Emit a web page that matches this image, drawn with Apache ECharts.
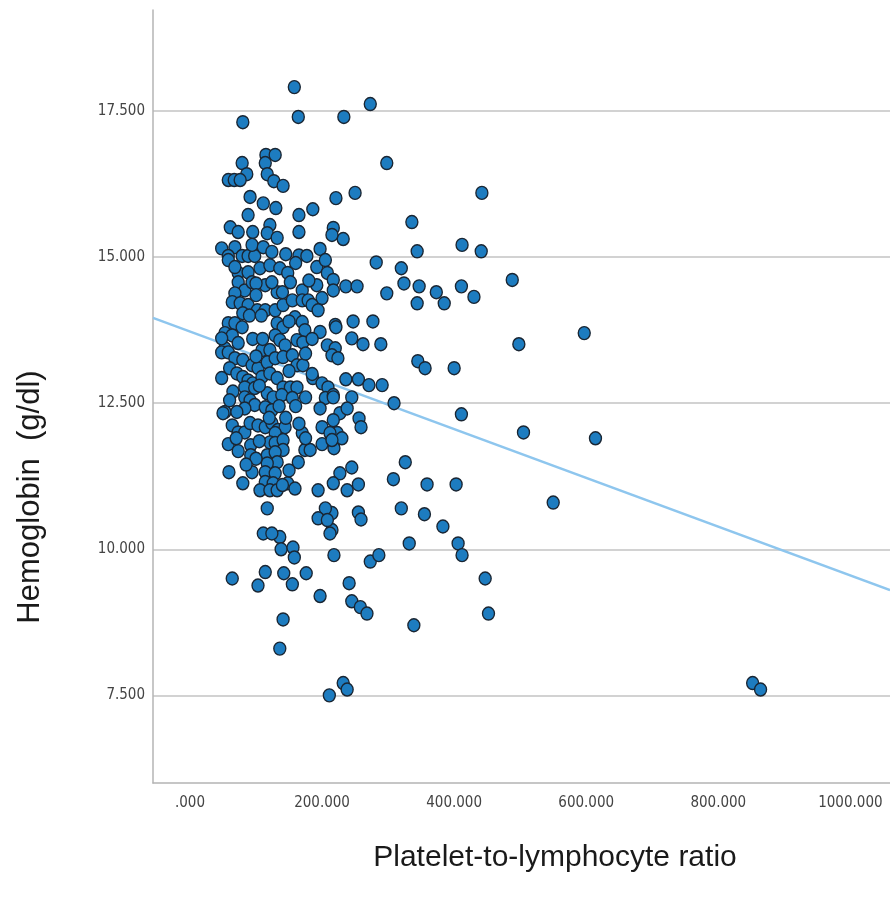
<!DOCTYPE html>
<html>
<head>
<meta charset="utf-8">
<title>Hemoglobin vs PLR</title>
<script src="https://cdn.jsdelivr.net/npm/echarts@6.0.0/dist/echarts.min.js"></script>
<style>
  html, body { margin: 0; padding: 0; background: #fff; }
  #chart { width: 890px; height: 906px; }
</style>
</head>
<body>
<div id="chart"></div>
<script>
// [PLR, hemoglobin]
var highGroup = [
    [158,17.91],[80,17.31],[164,17.40],[233,17.40],[273,17.62],[298,16.61],[115,16.75],[129,16.75],
    [79,16.61],[114,16.61],[86,16.42],[58,16.32],[67,16.32],[76,16.32],[117,16.42],[127,16.30],
    [141,16.22],[91,16.03],[111,15.92],[130,15.84],[88,15.72],[165,15.72],[186,15.82],[221,16.01],
    [250,16.10],[442,16.10],[336,15.60],[217,15.50],[232,15.31],[344,15.10],[412,15.21],[441,15.10],
    [121,15.55],[61,15.51],[73,15.43],[95,15.43],[117,15.41],[132,15.33],[165,15.43],[215,15.38],
    [48,15.15],[68,15.17],[58,15.02],[79,15.02],[88,15.02],[98,15.02],[94,15.21],[111,15.17],
    [124,15.09],[165,15.03],[177,15.02],[197,15.14],[145,15.05],[160,14.90]
];
var upperMidGroup = [
    [192,14.83],[205,14.95],[73,14.73],[88,14.74],[106,14.81],[121,14.86],[136,14.81],[148,14.73],
    [208,14.73],[282,14.91],[320,14.81],[324,14.55],[347,14.50],[373,14.40],[385,14.21],[344,14.21],
    [298,14.38],[411,14.50],[430,14.32],[488,14.61],[217,14.61],[236,14.50],[253,14.50],[58,14.95],
    [68,14.83],[73,14.57],[83,14.43],[94,14.57],[114,14.52],[132,14.40],[124,14.57],[152,14.57],
    [170,14.43],[192,14.52],[217,14.43],[200,14.30],[68,14.38],[64,14.23],[76,14.21],[88,14.18],
    [102,14.09],[114,14.09],[129,14.09],[141,14.18],[155,14.26],[170,14.26],[179,14.26],[185,14.18],
    [194,14.09],[80,14.04],[58,13.87],[68,13.87],[79,13.80],[132,13.87],[141,13.80],[159,13.97],
    [170,13.89],[174,13.75],[197,13.72],[220,13.84],[53,13.70],[64,13.66],[129,13.66],[136,13.58],
    [144,13.49],[162,13.58],[171,13.54],[73,13.53],[53,13.44],[48,13.37],[58,13.37],[109,13.41],
    [121,13.41],[208,13.49],[220,13.44],[215,13.32],[224,13.27],[68,13.27],[80,13.24],[94,13.15],
    [103,13.10],[117,13.20],[129,13.27],[141,13.29],[155,13.32],[162,13.15],[171,13.15],[48,13.61],
    [221,13.80],[247,13.90],[277,13.90],[245,13.61],[262,13.51],[289,13.51],[597,13.70],[498,13.51],
    [345,13.22],[356,13.10],[400,13.10],[100,14.55],[140,14.40],[180,14.60],[100,14.35],[90,14.00],
    [108,14.00],[150,13.90],[95,13.60],[110,13.60],[185,13.60],[100,13.30],[175,13.35],[60,13.10]
];
var lowerMidGroup = [
    [48,12.93],[71,13.01],[80,12.95],[88,12.89],[95,12.84],[109,12.95],[121,13.01],[132,12.93],
    [141,12.77],[152,12.77],[162,12.77],[186,12.93],[200,12.84],[209,12.77],[83,12.77],[98,12.76],
    [83,12.60],[91,12.55],[98,12.47],[83,12.41],[117,12.67],[126,12.60],[139,12.64],[155,12.59],
    [114,12.43],[124,12.38],[205,12.59],[217,12.64],[197,12.41],[53,12.35],[71,12.35],[227,12.33],
    [50,12.33],[236,12.91],[255,12.91],[271,12.81],[291,12.81],[217,12.60],[245,12.60],[238,12.41],
    [309,12.50],[411,12.31],[256,12.24],[259,12.09],[217,12.21],[223,11.99],[230,11.90],[218,11.73],
    [505,12.00],[614,11.90],[64,12.12],[73,12.00],[83,12.00],[91,12.16],[103,12.12],[114,12.09],
    [124,12.16],[133,12.04],[144,12.09],[129,11.99],[121,11.83],[129,11.82],[141,11.87],[141,11.70],
    [170,11.99],[200,12.09],[212,11.99],[58,11.80],[73,11.68],[92,11.78],[92,11.61],[117,11.61],
    [129,11.66],[132,11.49],[117,11.47],[164,11.49],[174,11.70],[182,11.70],[200,11.80],[215,11.87],
    [150,13.05],[105,12.80],[185,13.00],[65,12.70],[60,12.55],[175,12.60],[135,12.45],[160,12.45],
    [145,12.25],[120,12.25],[165,12.15],[175,11.90],[105,11.85],[70,11.90],[100,11.55]
];
var lowGroup = [
    [326,11.49],[245,11.40],[227,11.30],[308,11.20],[359,11.11],[403,11.11],[217,11.13],[255,11.11],
    [238,11.01],[550,10.80],[320,10.70],[355,10.60],[383,10.39],[255,10.63],[259,10.51],[215,10.62],
    [215,10.33],[332,10.10],[406,10.10],[412,9.90],[218,9.90],[273,9.79],[286,9.90],[447,9.50],
    [241,9.42],[245,9.11],[258,9.01],[268,8.90],[452,8.90],[339,8.70],[211,7.50],[232,7.71],
    [238,7.60],[852,7.71],[864,7.60],[64,9.50],[103,9.38],[114,9.61],[142,9.59],[155,9.40],
    [176,9.59],[197,9.20],[141,8.80],[136,8.30],[212,10.27],[136,10.21],[138,10.00],[156,10.03],
    [158,9.86],[111,10.27],[124,10.27],[59,11.32],[80,11.13],[94,11.32],[114,11.32],[129,11.30],
    [114,11.15],[126,11.13],[106,11.01],[121,11.01],[132,11.01],[148,11.13],[159,11.04],[194,11.01],
    [117,10.70],[205,10.70],[194,10.53],[208,10.50],[150,11.35],[140,11.10],[85,11.45]
];

// fit line, ends at the plot edges
var fitPlr = [-56, 1060];
var fitHgb = [13.96, 9.30];

var xTicks = [0, 200, 400, 600, 800, 1000];
var yTicks = [7.5, 10, 12.5, 15, 17.5];

var points = highGroup.concat(upperMidGroup, lowerMidGroup, lowGroup);
var fitLine = fitPlr.map(function (v, i) { return [v, fitHgb[i]]; });

var labelFont = "'DejaVu Sans Condensed', 'Liberation Sans Narrow', sans-serif";
var titleFont = "'Liberation Sans', Arial, sans-serif";

var myChart = echarts.init(document.getElementById('chart'));
var option = {
    animation: false,
    grid: {
        left: 153,
        top: 10,
        right: 0,
        bottom: 123
    },
    xAxis: {
        type: 'value',
        min: -56,
        max: 1060,
        axisLine: { show: true, onZero: false, lineStyle: { color: '#b4b4b4', width: 1.5 } },
        axisTick: { show: false, customValues: xTicks },
        splitLine: { show: false },
        axisLabel: {
            customValues: xTicks,
            margin: 13,
            color: '#444',
            fontSize: 15,
            fontFamily: labelFont,
            formatter: function (v) {
                return v === 0 ? '.000' : v.toFixed(3);
            }
        }
    },
    yAxis: {
        type: 'value',
        min: 6.0,
        max: 19.23,
        axisLine: { show: true, onZero: false, lineStyle: { color: '#b4b4b4', width: 1.5 } },
        axisTick: { show: false, customValues: yTicks },
        splitLine: { show: true, lineStyle: { color: '#d2d2d2', width: 2 } },
        axisLabel: {
            customValues: yTicks,
            margin: 8,
            color: '#444',
            fontSize: 15,
            fontFamily: labelFont,
            formatter: function (v) {
                return v.toFixed(3);
            }
        }
    },
    graphic: [
        {
            type: 'text',
            x: 30,
            y: 497,
            rotation: Math.PI / 2,
            style: {
                text: 'Hemoglobin  (g/dl)',
                fontSize: 31,
                fontFamily: titleFont,
                fill: '#1a1a1a',
                textAlign: 'center',
                textVerticalAlign: 'middle'
            }
        },
        {
            type: 'text',
            x: 555,
            y: 858,
            style: {
                text: 'Platelet-to-lymphocyte ratio',
                fontSize: 30,
                fontFamily: titleFont,
                fill: '#1a1a1a',
                textAlign: 'center',
                textVerticalAlign: 'middle'
            }
        }
    ],
    series: [
        {
            name: 'fit',
            type: 'line',
            data: fitLine,
            symbol: 'none',
            z: 1,
            lineStyle: { color: '#8ec6ee', width: 2.5 }
        },
        {
            name: 'patients',
            type: 'scatter',
            data: points,
            symbol: 'circle',
            symbolSize: [12, 13],
            z: 2,
            itemStyle: {
                color: '#1d7cc0',
                borderColor: '#1a2633',
                borderWidth: 1.4,
                opacity: 1
            }
        }
    ]
};
myChart.setOption(option);
window.addEventListener('resize', () => {
    myChart.resize();
});
</script>
</body>
</html>
